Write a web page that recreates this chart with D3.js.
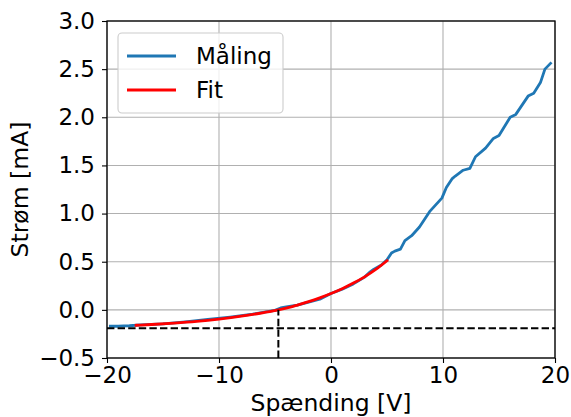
<!DOCTYPE html>
<html>
<head>
<meta charset="utf-8">
<script src="https://cdn.jsdelivr.net/npm/d3@7"></script>
<style>
  body { margin: 0; background: #fff; }
  text { font-family: "DejaVu Sans", sans-serif; fill: #000; }
</style>
</head>
<body>
<svg id="chart" width="571" height="417"></svg>
<script>
// measured curve (V, mA)
var malingX = [-19.7, -19, -18, -17, -15, -13, -11, -9, -7, -5, -4.5, -4, -3, -2, -1, 0, 1, 2, 3, 3.5, 3.8, 4.5, 5,
               5.4, 5.7, 6.2, 6.6, 7.2, 7.9, 8.8, 9.9, 10.3, 10.8, 11.1, 11.8, 12.4, 12.9, 13.8, 14.5, 15.0,
               16.0, 16.5, 17.6, 18.1, 18.7, 19.1, 19.6];
var malingY = [-0.17, -0.17, -0.165, -0.155, -0.145, -0.125, -0.10, -0.075, -0.045, -0.005, 0.02, 0.03, 0.05, 0.08, 0.11, 0.17, 0.215, 0.27, 0.34, 0.395, 0.42, 0.465, 0.52,
               0.59, 0.61, 0.63, 0.72, 0.77, 0.86, 1.02, 1.16, 1.27, 1.36, 1.39, 1.45, 1.47, 1.59, 1.68, 1.78, 1.81,
               2.00, 2.03, 2.22, 2.25, 2.36, 2.50, 2.56];

// fitted curve
var fitX = [-17.4, -16, -14, -12, -10, -8, -6, -4.7, -4, -3, -2, -1, 0, 1, 2, 3, 4, 5];
var fitY = [-0.160, -0.152, -0.138, -0.120, -0.096, -0.066, -0.028, 0.000, 0.018, 0.050, 0.085, 0.125, 0.170, 0.220, 0.278, 0.343, 0.420, 0.510];

var xTicks = [-20, -10, 0, 10, 20];
var yTicks = [-0.5, 0.0, 0.5, 1.0, 1.5, 2.0, 2.5, 3.0];
var offsetY = -0.19;   // horizontal dashed line
var crossX = -4.7;     // vertical dashed line

var legendNames = ["Måling", "Fit"];
var legendColors = ["#1f77b4", "#ff0000"];

var svg = d3.select("#chart");
var plotL = 107, plotR = 555, plotT = 21, plotB = 358;

var x = d3.scaleLinear().domain([-20, 20]).range([plotL, plotR]);
var y = d3.scaleLinear().domain([-0.5, 3.0]).range([plotB, plotT]);

// grid
svg.append("g").selectAll("line").data(xTicks).enter().append("line")
  .attr("x1", function (d) { return x(d); }).attr("x2", function (d) { return x(d); })
  .attr("y1", plotT).attr("y2", plotB)
  .attr("stroke", "#b0b0b0").attr("stroke-width", 1.1);
svg.append("g").selectAll("line").data(yTicks).enter().append("line")
  .attr("y1", function (d) { return y(d); }).attr("y2", function (d) { return y(d); })
  .attr("x1", plotL).attr("x2", plotR)
  .attr("stroke", "#b0b0b0").attr("stroke-width", 1.1);

svg.append("clipPath").attr("id", "clip").append("rect")
  .attr("x", plotL).attr("y", plotT).attr("width", plotR - plotL).attr("height", plotB - plotT);

var plot = svg.append("g").attr("clip-path", "url(#clip)");

var line = d3.line()
  .x(function (d) { return x(d[0]); })
  .y(function (d) { return y(d[1]); });

plot.append("path")
  .datum(d3.zip(malingX, malingY))
  .attr("d", line)
  .attr("fill", "none").attr("stroke", legendColors[0]).attr("stroke-width", 2.8)
  .attr("stroke-linejoin", "round").attr("stroke-linecap", "square");

plot.append("path")
  .datum(d3.zip(fitX, fitY))
  .attr("d", line.curve(d3.curveMonotoneX))
  .attr("fill", "none").attr("stroke", legendColors[1]).attr("stroke-width", 2.8)
  .attr("stroke-linecap", "square");

plot.append("line")
  .attr("x1", x(-20)).attr("x2", x(20)).attr("y1", y(offsetY)).attr("y2", y(offsetY))
  .attr("stroke", "#000").attr("stroke-width", 2).attr("stroke-dasharray", "7.4,3.2");
plot.append("line")
  .attr("x1", x(crossX)).attr("x2", x(crossX)).attr("y1", y(-0.5)).attr("y2", y(0))
  .attr("stroke", "#000").attr("stroke-width", 2).attr("stroke-dasharray", "7.4,3.2");

// axes
var xAxis = svg.append("g").attr("transform", "translate(0," + plotB + ")")
  .call(d3.axisBottom(x).tickValues(xTicks).tickSize(5).tickPadding(4)
    .tickFormat(function (d) { return d < 0 ? "\u2212" + Math.abs(d) : d; }));
var yAxis = svg.append("g").attr("transform", "translate(" + plotL + ",0)")
  .call(d3.axisLeft(y).tickValues(yTicks).tickSize(5).tickPadding(7)
    .tickFormat(function (d) { return d < 0 ? "\u2212" + Math.abs(d).toFixed(1) : d.toFixed(1); }));
[xAxis, yAxis].forEach(function (a) {
  a.select(".domain").remove();
  a.selectAll("text").attr("font-size", 23).attr("font-family", "DejaVu Sans");
  a.selectAll("line").attr("stroke", "#000").attr("stroke-width", 1.1);
});

svg.append("rect")
  .attr("x", plotL).attr("y", plotT).attr("width", plotR - plotL).attr("height", plotB - plotT)
  .attr("fill", "none").attr("stroke", "#000").attr("stroke-width", 1.3);

// labels
svg.append("text").attr("x", (plotL + plotR) / 2).attr("y", 411)
  .attr("text-anchor", "middle").attr("font-size", 23.5).text("Spænding [V]");
svg.append("text").attr("transform", "translate(28," + ((plotT + plotB) / 2) + ") rotate(-90)")
  .attr("text-anchor", "middle").attr("font-size", 23.5).text("Strøm [mA]");

// legend
var lg = svg.append("g");
lg.append("rect").attr("x", 118).attr("y", 33).attr("width", 165).attr("height", 80).attr("rx", 4)
  .attr("fill", "#fff").attr("fill-opacity", 0.8).attr("stroke", "#cccccc").attr("stroke-width", 1.1);
legendNames.forEach(function (name, i) {
  var yy = 56 + i * 34;
  lg.append("line").attr("x1", 127).attr("x2", 176).attr("y1", yy).attr("y2", yy)
    .attr("stroke", legendColors[i]).attr("stroke-width", 2.8);
  lg.append("text").attr("x", 196).attr("y", yy + 8).attr("font-size", 23).text(name);
});
</script>
</body>
</html>
